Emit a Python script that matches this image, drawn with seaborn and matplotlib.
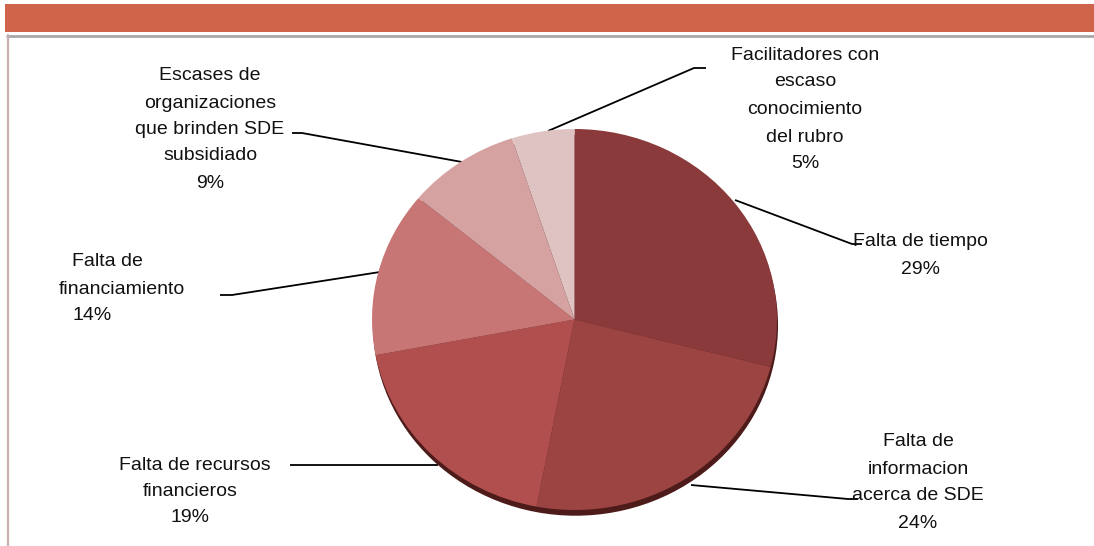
import matplotlib
matplotlib.use("Agg")
import matplotlib.pyplot as plt
from matplotlib.patches import Rectangle, Ellipse
import seaborn as sns

# Survey shares (percent), clockwise from 12 o'clock
categories = [
    "Falta de tiempo",
    "Falta de\ninformacion\nacerca de SDE",
    "Falta de recursos\nfinancieros",
    "Falta de\nfinanciamiento",
    "Escases de\norganizaciones\nque brinden SDE\nsubsidiado",
    "Facilitadores con\nescaso\nconocimiento\ndel rubro",
]
shares = [29, 24, 19, 14, 9, 5]

slice_colors = ["#8A3A3B", "#9B4441", "#B04F4D", "#C87575", "#D5A2A1", "#DFC3C3"]

sns.set_theme(style="white")
plt.rcParams["font.family"] = ["Liberation Sans", "DejaVu Sans"]

W, H = 1094, 546
fig = plt.figure(figsize=(W / 100, H / 100), dpi=100)
ax = fig.add_axes([0, 0, 1, 1])
ax.set_xlim(0, W)
ax.set_ylim(0, H)
ax.axis("off")


def Y(y):
    return H - y


# header band and frame
ax.add_patch(Rectangle((5, Y(32)), W - 5, 28, color="#D0644A", lw=0, zorder=1))
ax.plot([7, W], [Y(35.5), Y(35.5)], color="#A8A8A8", lw=2, zorder=1)
ax.plot([7.5, 7.5], [Y(35), 0], color="#C9AFAF", lw=1.6, zorder=1)

# pie in its own box (slightly wider than tall)
left, top, right, bottom = 372, 129, 777, 510
pax = fig.add_axes([left / W, (H - bottom) / H, (right - left) / W, (bottom - top) / H])
pax.add_patch(Ellipse((0.005, -0.03), 2.0, 2.0, color="#4E1B1B", lw=0,
                      zorder=1, clip_on=False))
pax.pie(
    shares,
    colors=slice_colors,
    startangle=90,
    counterclock=False,
    radius=1,
    wedgeprops=dict(linewidth=0, zorder=3),
)
pax.set_xlim(-1, 1)
pax.set_ylim(-1, 1)
pax.set_aspect("auto")
pax.axis("off")

# leader lines and label line positions (x centre, y of each text line)
fs = 14
label_specs = [
    ([(735, 200), (852, 244), (862, 244)], [920] * 2, [242, 270]),
    ([(691, 485), (848, 499), (858, 499)], [918] * 4, [442, 470, 496, 523]),
    ([(438, 465), (290, 465)], [195, 190, 190], [465, 492, 517]),
    ([(380, 272), (232, 295), (220, 295)], [107, 122, 92], [262, 289, 315]),
    ([(462, 162), (302, 133), (292, 133)], [210] * 5, [76, 103, 129, 156, 184]),
    ([(548, 131), (694, 68), (706, 68)], [805] * 5, [55, 81, 109, 137, 164]),
]

for cat, val, (line, xs_t, ys_t) in zip(categories, shares, label_specs):
    ax.plot([p[0] for p in line], [Y(p[1]) for p in line],
            color="black", lw=1.3, zorder=4, solid_capstyle="butt")
    rows = cat.split("\n") + [f"{val}%"]
    for txt, x, y in zip(rows, xs_t, ys_t):
        ax.text(x, Y(y), txt, ha="center", va="center", fontsize=fs,
                color="#111111", zorder=5)

fig.savefig("out.png", dpi=100, facecolor="white")
